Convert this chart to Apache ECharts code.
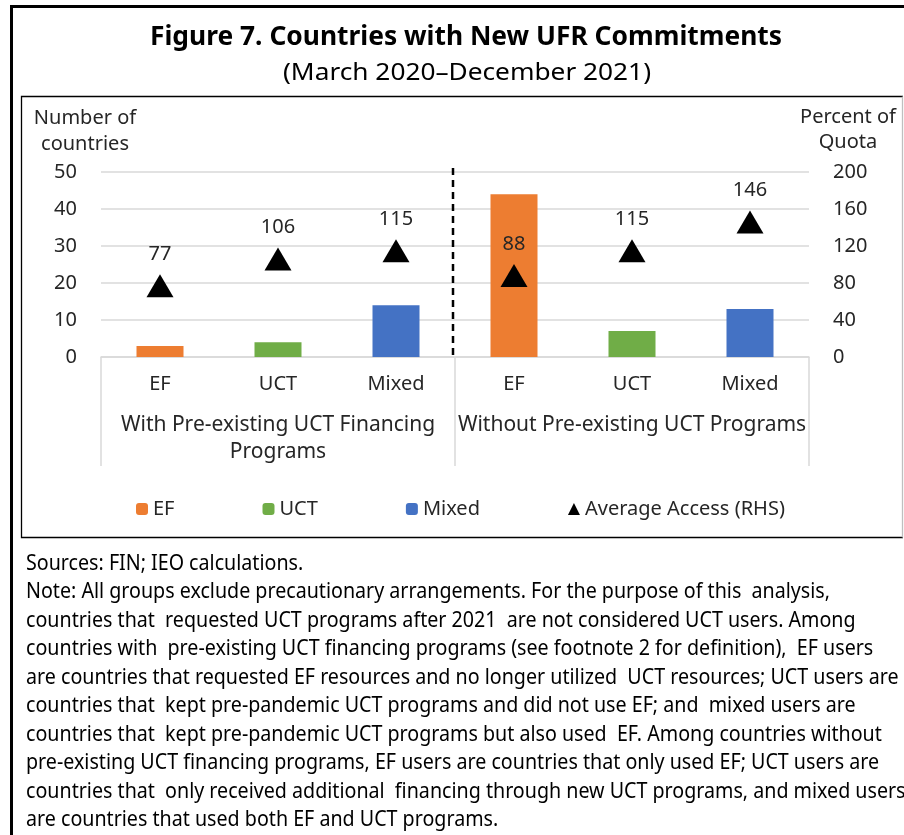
<!DOCTYPE html>
<html>
<head>
<meta charset="utf-8">
<script src="https://cdn.jsdelivr.net/npm/echarts@6/dist/echarts.min.js"></script>
<style>
  body { margin: 0; background: #fff; }
  #chart { width: 904px; height: 835px; }
</style>
</head>
<body>
<div id="chart"></div>
<script>
// data
var categories = ["EF", "UCT", "Mixed", "EF", "UCT", "Mixed"];
var groups = ["With Pre-existing UCT Financing\nPrograms", "Without Pre-existing UCT Programs"];
var efCounts = [3, null, null, 44, null, null];
var uctCounts = [null, 4, null, null, 7, null];
var mixedCounts = [null, null, 14, null, null, 13];
var avgAccess = [77, 106, 115, 88, 115, 146];
var leftTicks = { min: 0, max: 50, interval: 10 };
var rightTicks = { min: 0, max: 200, interval: 40 };

var noteLines = [
  "Sources: FIN; IEO calculations.",
  "Note: All groups exclude precautionary arrangements. For the purpose of this  analysis,",
  "countries that  requested UCT programs after 2021  are not considered UCT users. Among",
  "countries with  pre-existing UCT financing programs (see footnote 2 for definition),  EF users",
  "are countries that requested EF resources and no longer utilized  UCT resources; UCT users are",
  "countries that  kept pre-pandemic UCT programs and did not use EF; and  mixed users are",
  "countries that  kept pre-pandemic UCT programs but also used  EF. Among countries without",
  "pre-existing UCT financing programs, EF users are countries that only used EF; UCT users are",
  "countries that  only received additional  financing through new UCT programs, and mixed users",
  "are countries that used both EF and UCT programs."
];

var FONT = '"Noto Sans", sans-serif';
var textColor = "#262626";
var gridColor = "#d9d9d9";

// squeeze text horizontally to mimic the narrow font in the original
var ctx = document.createElement("canvas").getContext("2d");
function fitScale(text, font, width) {
  ctx.font = font;
  return width / ctx.measureText(text).width;
}
var titleFont = "bold 27px " + FONT;
var subFont = "24px " + FONT;
var noteFont = "21px " + FONT;
var noteScale = fitScale(noteLines[1], noteFont, 804);

var graphics = [
  { type: "rect", shape: { x: 11.5, y: 6.5, width: 1000, height: 1000 },
    style: { fill: null, stroke: "#000", lineWidth: 3 } },
  { type: "polyline", shape: { points: [[903, 96.5], [21.5, 96.5], [21.5, 537.5], [903, 537.5]] },
    style: { fill: null, stroke: "#000", lineWidth: 1.3 } },
  { type: "line", shape: { x1: 902.5, y1: 96.5, x2: 902.5, y2: 537.5 },
    style: { stroke: "#bfbfbf", lineWidth: 1.3 } },
  { type: "text", x: 466, y: 37, scaleX: fitScale("Figure 7. Countries with New UFR Commitments", titleFont, 632),
    style: { text: "Figure 7. Countries with New UFR Commitments", font: titleFont, fill: "#000",
      textAlign: "center", verticalAlign: "middle" } },
  { type: "text", x: 467, y: 73, scaleX: fitScale("(March 2020\u2013December 2021)", subFont, 368),
    style: { text: "(March 2020\u2013December 2021)", font: subFont, fill: "#000",
      textAlign: "center", verticalAlign: "middle" } },
  { type: "text", x: 85, y: 131,
    style: { text: "Number of\ncountries", font: "20px " + FONT, lineHeight: 26, fill: textColor,
      textAlign: "center", verticalAlign: "middle" } },
  { type: "text", x: 848, y: 130,
    style: { text: "Percent of\nQuota", font: "20px " + FONT, lineHeight: 25, fill: textColor,
      textAlign: "center", verticalAlign: "middle" } }
];
noteLines.forEach(function (line, i) {
  graphics.push({ type: "text", x: 26, y: 564 + i * 28.5, scaleX: noteScale,
    style: { text: line, font: noteFont, fill: "#000", textAlign: "left", verticalAlign: "middle" } });
});

var chart = echarts.init(document.getElementById("chart"));
var option = {
  animation: false,
  textStyle: { fontFamily: FONT },
  grid: { left: 101, right: 95, top: 172, bottom: 478, outerBoundsMode: "none" },
  legend: {
    left: 131, top: 494, itemGap: 88, itemWidth: 12, itemHeight: 12,
    data: ["EF", "UCT", "Mixed", { name: "Average Access (RHS)", itemStyle: { opacity: 1 } }],
    textStyle: { fontSize: 20, color: textColor }
  },
  xAxis: [
    {
      type: "category", data: categories,
      axisLine: { lineStyle: { color: gridColor, width: 1.5 } },
      axisTick: { show: false },
      axisLabel: { interval: 0, margin: 17, fontSize: 20, color: textColor }
    },
    {
      type: "category", data: groups, position: "bottom",
      axisLine: { show: false },
      axisTick: { show: true, length: 109, interval: 0, lineStyle: { color: gridColor, width: 1.5 } },
      axisLabel: { interval: 0, margin: 55, fontSize: 21, lineHeight: 27, color: textColor }
    }
  ],
  yAxis: [
    {
      type: "value", min: leftTicks.min, max: leftTicks.max, interval: leftTicks.interval,
      axisLine: { show: false }, axisTick: { show: false },
      axisLabel: { margin: 24, fontSize: 20, color: textColor },
      splitLine: { lineStyle: { color: gridColor, width: 1.5 } }
    },
    {
      type: "value", min: rightTicks.min, max: rightTicks.max, interval: rightTicks.interval,
      axisLine: { show: false }, axisTick: { show: false },
      axisLabel: { margin: 24, fontSize: 20, color: textColor },
      splitLine: { show: false }
    }
  ],
  series: [
    { name: "EF", type: "bar", data: efCounts, barWidth: 47, barGap: "-100%",
      itemStyle: { color: "#ED7D31" } },
    { name: "UCT", type: "bar", data: uctCounts, barWidth: 47, barGap: "-100%",
      itemStyle: { color: "#70AD47" } },
    { name: "Mixed", type: "bar", data: mixedCounts, barWidth: 47, barGap: "-100%",
      itemStyle: { color: "#4472C4" } },
    { name: "Average Access (RHS)", type: "scatter", yAxisIndex: 1, data: avgAccess,
      symbol: "triangle", symbolSize: [27, 23], z: 5,
      itemStyle: { color: "#000", opacity: 1 },
      label: { show: true, position: "top", distance: 10, fontSize: 20, color: textColor } }
  ],
  graphic: graphics
};
chart.setOption(option);

// dashed separator between the two groups, placed through the axes
var xa = chart.convertToPixel({ xAxisIndex: 0 }, 2);
var xb = chart.convertToPixel({ xAxisIndex: 0 }, 3);
var yTop = chart.convertToPixel({ yAxisIndex: 0 }, leftTicks.max);
var yBot = chart.convertToPixel({ yAxisIndex: 0 }, leftTicks.min);
var sepX = (xa + xb) / 2 - 2;
graphics.push({ type: "line", z: 10,
  shape: { x1: sepX, y1: yTop - 4, x2: sepX, y2: yBot - 2 },
  style: { stroke: "#000", lineWidth: 2.5, lineDash: [7, 5] } });
chart.setOption({ graphic: graphics });
</script>
</body>
</html>
